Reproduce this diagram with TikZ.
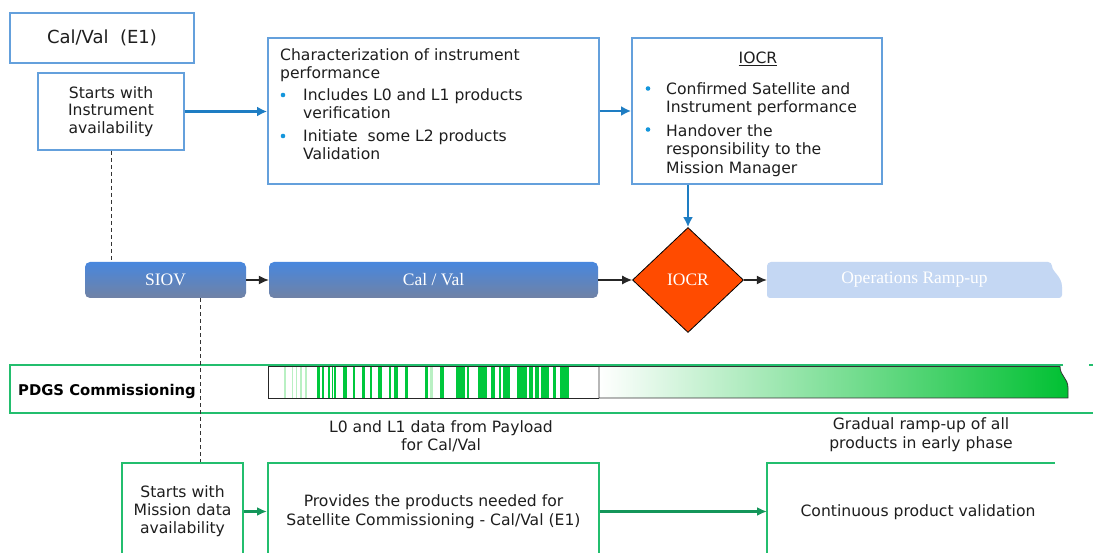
\documentclass[tikz,border=0pt]{standalone}
\usepackage{fontspec}
\setmainfont{DejaVu Sans}
\newfontfamily\barfont{Liberation Serif}
\usetikzlibrary{shapes.geometric,arrows.meta,calc}
\definecolor{boxblue}{RGB}{100,160,220}
\definecolor{arrblue}{RGB}{30,125,195}
\definecolor{bulblue}{RGB}{20,150,220}
\definecolor{barTop}{RGB}{72,135,222}
\definecolor{barBot}{RGB}{112,130,165}
\definecolor{iocrred}{RGB}{255,75,0}
\definecolor{opsblue}{RGB}{196,215,243}
\definecolor{boxgreen}{RGB}{35,190,110}
\definecolor{arrgreen}{RGB}{20,150,90}
\definecolor{gstripe}{RGB}{0,200,60}
\definecolor{glight}{RGB}{185,240,195}
\definecolor{ggrad}{RGB}{0,192,50}
\definecolor{textc}{RGB}{30,30,30}
\newcommand\bodyfont{\fontsize{15.6}{18.5}\selectfont}
\newcommand\labfont{\barfont\fontsize{17.5}{20}\selectfont}
\begin{document}
\begin{tikzpicture}[x=1pt,y=-1pt,
  bluebox/.style={draw=boxblue, line width=1.8pt, inner sep=0pt, fill=white},
  txt/.style={font=\bodyfont, text=textc, inner sep=0pt},
  bararrow/.style={-{Latex[length=10pt,width=9pt]}, line width=1.1pt, draw=black!85},
  bluearrow/.style={-{Latex[length=10pt,width=10pt]}, line width=2.2pt, draw=arrblue},
  greenarrow/.style={-{Latex[length=10pt,width=9pt]}, line width=2.4pt, draw=arrgreen},
  barnode/.style={rounded corners=5pt, inner sep=0pt, minimum height=36pt, top color=barTop, bottom color=barBot, text=white, font=\labfont},
  dashline/.style={dash pattern=on 4pt off 3pt, line width=1pt, draw=black!80},
  greenbox/.style={draw=boxgreen, line width=2pt, inner sep=0pt},
  bul/.style={fill=bulblue}]
\clip (0,0) rectangle (1093,553);
\useasboundingbox (0,0) rectangle (1093,553);
\fill[white] (0,0) rectangle (1093,553);

% ---------- top row ----------
\node[bluebox, font=\fontsize{18}{21}\selectfont, text=textc, minimum width=184pt, minimum height=50pt] (cv) at (102,38) {Cal/Val\ \ (E1)};
\node[bluebox, txt, align=center, font=\fontsize{15.6}{17.5}\selectfont, minimum width=146pt, minimum height=77pt] (sw) at (111,111.5) {Starts with\\Instrument\\availability};

\node[bluebox, minimum width=331pt, minimum height=146pt] (chr) at (433.5,111) {};
\node[txt, anchor=north west, align=left] (chr1) at (280,48) {Characterization of instrument\\performance};
\node[txt, anchor=north west, align=left] (chr2) at (303,88) {Includes L0 and L1 products\\verification};
\node[txt, anchor=north west, align=left] (chr3) at (303,129) {Initiate\ \ some L2 products\\Validation};
\fill[bul] (283,95) circle (2.3);
\fill[bul] (283,136) circle (2.3);

\node[bluebox, minimum width=250pt, minimum height=146pt] (iocrbox) at (757,111) {};
\node[txt, anchor=north] (iocr0) at (758,51.5) {\underline{IOCR}};
\node[txt, anchor=north west, align=left] (iocr1) at (666,82) {Confirmed Satellite and\\Instrument performance};
\node[txt, anchor=north west, align=left] (iocr2) at (666,124) {Handover the\\responsibility to the\\Mission Manager};
\fill[bul] (648,88.5) circle (2.3);
\fill[bul] (648,129.5) circle (2.3);

\draw[bluearrow] (sw.east) -- (sw.east -| chr.west);
\draw[bluearrow] (chr.east) -- (chr.east -| iocrbox.west);

% ---------- timeline bar ----------
\node[barnode, minimum width=161pt] (siov) at (165.5,280) {SIOV};
\node[barnode, minimum width=329pt] (calv) at (433.5,280) {Cal / Val};
\node[diamond, draw=black, line width=0.8pt, fill=iocrred, minimum width=111pt, minimum height=105pt, inner sep=0pt, text=white, font=\labfont] (iocrd) at (688,280) {IOCR};
\fill[opsblue, rounded corners=4pt] (767,298) -- (767,262) -- (1052,262) [sharp corners] .. controls (1052,272) and (1062,276) .. (1062,287) [rounded corners=3pt] -- (1062,298) -- cycle;
\node[inner sep=0pt, minimum width=295pt, minimum height=36pt, text=white, font=\labfont] (ops) at (914.5,280) {Operations Ramp-up};

\draw[bluearrow] (iocrd.north |- iocrbox.south) -- (iocrd.north);
\draw[bararrow] (siov.east) -- (calv.west);
\draw[bararrow] (calv.east) -- (iocrd.west);
\draw[bararrow] (iocrd.east) -- (ops.west);

% ---------- PDGS ----------
\draw[boxgreen, line width=2pt] (1063,365) -- (10,365) -- (10,413) -- (1095,413);
\draw[boxgreen, line width=2pt] (1089,365) -- (1095,365);
\node[anchor=west, inner sep=0pt, text=black, font=\bfseries\fontsize{14.8}{17}\selectfont] (pdgs) at (18,391) {PDGS Commissioning};

\foreach \a/\b in {284/286,292/293,296/297,300/302,305/306.5,430/433}
  \fill[glight] (\a,366) rectangle (\b,398);
\foreach \a/\b in {317/320,322/323.5,328/330,332/333,334/336,343/347,353/355,362/365,370/372,378/382,389/391,394/398,405/408,425/428,440/444,456/465,467/468.5,478/487,491/495,499/501,503/510,517/527,528.5/533,534.5/539,540.5/549,553/556,560/569}
  \fill[gstripe] (\a,366) rectangle (\b,398);
\draw[black!85, line width=0.8pt] (599,366.5) -- (268,366.5) -- (268,398) -- (599,398);
\shade[left color=white, right color=ggrad, draw=black!80, line width=0.8pt] (599,366.5) -- (1060,366.5) .. controls (1060,376) and (1068,378) .. (1068,388) -- (1068,398) -- (599,398) -- cycle;

% ---------- dashed links ----------
\draw[dashline] (sw.south) -- (sw.south |- siov.north);
\coordinate (sd) at ($(siov.south west)!0.714!(siov.south east)$);

% ---------- bottom row ----------
\node[txt, align=center] (lab1) at (441,436.5) {L0 and L1 data from Payload\\for Cal/Val};
\node[txt, align=center] (lab2) at (921,434.5) {Gradual ramp-up of all\\products in early phase};

\node[greenbox, txt, align=center, font=\fontsize{15.6}{18}\selectfont, minimum width=121pt, minimum height=97pt] (swm) at (182.5,511.5) {Starts with\\Mission data\\availability};
\node[greenbox, txt, align=center, minimum width=331pt, minimum height=97pt] (prov) at (433.5,511.5) {Provides the products needed for\\Satellite Commissioning - Cal/Val (E1)};
\draw[boxgreen, line width=2pt] (767,560) -- (767,463) -- (1055,463);
\coordinate (cpvw) at (767,511.5);
\node[txt] (cpv) at (918,512) {Continuous product validation};

\draw[dashline] (sd) -- (sd |- swm.north);
\draw[greenarrow] (swm.east) -- (prov.west);
\draw[greenarrow] (prov.east) -- (cpvw);
\end{tikzpicture}
\end{document}
